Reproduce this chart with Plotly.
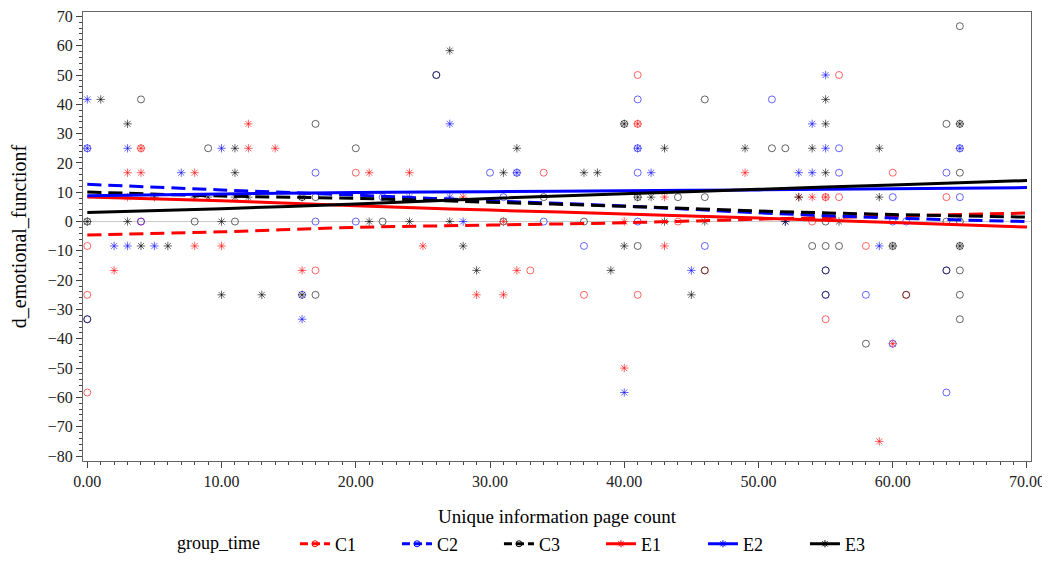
import plotly.graph_objects as go

# scatter points (x = page count, y = score)
c1_x = [0, 0, 0, 4, 4, 17, 20, 33, 34, 37, 41, 41, 41, 44, 46, 54, 55, 56, 56, 55, 58, 60, 61, 64]
c1_y = [-8.33, -25, -58.33, 0, 25, -16.67, 16.67, -16.67, 16.67, -25, 50, 33.33, -25, 0, -16.67,
        0, 8.33, 8.33, 50, -33.33, -8.33, 16.67, -25, 8.33]

c2_x = [0, 0, 4, 16, 17, 17, 20, 22, 26, 30, 31, 32, 34, 37, 41, 41, 41, 41, 46, 51, 55, 55,
        56, 56, 58, 60, 61, 60, 60, 64, 64, 64, 65, 65]
c2_y = [25, -33.33, 0, -25, 16.67, 0, 0, 8.33, 50, 16.67, 8.33, 16.67, 0, -8.33, 41.67, 25,
        16.67, 0, -8.33, 41.67, -16.67, -25, 25, 16.67, -25, 0, 0, -41.67, 8.33, 16.67, -58.33,
        -16.67, 8.33, 25]

c3_x = [0, 0, 4, 8, 9, 11, 16, 17, 17, 17, 20, 22, 26, 31, 34, 37, 40, 41, 41, 44, 46, 46, 46,
        51, 52, 54, 55, 55, 55, 55, 56, 58, 60, 61, 64, 64, 64, 65, 65, 65, 65, 65, 65, 65, 65]
c3_y = [0, -33.33, 41.67, 0, 25, 0, 8.33, 33.33, -25, 8.33, 25, 0, 50, 0, 8.33, 0, 33.33, 8.33,
        -8.33, 8.33, 41.67, 8.33, -16.67, 25, 25, -8.33, -8.33, 0, -16.67, -25, -8.33, -41.67,
        -8.33, -25, 33.33, 0, -16.67, 66.67, 33.33, 16.67, 0, -8.33, -16.67, -25, -33.33]

e1_x = [2, 3, 3, 4, 4, 8, 8, 10, 12, 12, 14, 16, 21, 24, 25, 28, 29, 31, 32, 40, 40, 41, 43,
        43, 49, 54, 55, 60, 59, 31, 53]
e1_y = [-16.67, 16.67, 8.33, 16.67, 25, 16.67, -8.33, -8.33, 33.33, 25, 25, -16.67, 16.67,
        16.67, -8.33, 8.33, -25, -25, -16.67, -50, 0, 33.33, -8.33, 8.33, 16.67, 8.33, 8.33,
        -41.67, -75, 0, 8.33]

e2_x = [0, 0, 2, 3, 3, 5, 7, 10, 16, 24, 27, 27, 28, 32, 40, 41, 42, 45, 53, 54, 54, 55, 55,
        59, 65, 52]
e2_y = [41.67, 25, -8.33, -8.33, 25, -8.33, 16.67, 25, -33.33, 8.33, 33.33, 8.33, 0, 16.67,
        -58.33, 25, 16.67, -16.67, 16.67, 16.67, 33.33, 50, 25, -8.33, 25, 0]

e3_x = [0, 1, 3, 3, 4, 5, 6, 8, 9, 10, 10, 11, 11, 11, 12, 13, 16, 16, 21, 24, 27, 27, 28, 29,
        31, 32, 37, 38, 39, 40, 40, 41, 42, 43, 43, 45, 46, 49, 53, 54, 55, 55, 55, 56, 59, 59,
        60, 65, 65, 52]
e3_y = [0, 41.67, 33.33, 0, -8.33, 8.33, -8.33, 8.33, 8.33, 0, -25, 16.67, 25, 8.33, 8.33, -25,
        -25, 8.33, 0, 0, 58.33, 0, -8.33, -16.67, 16.67, 25, 16.67, 16.67, -16.67, -8.33, 33.33,
        8.33, 8.33, 25, 0, -25, 0, 25, 8.33, 25, 41.67, 33.33, 16.67, 0, 25, 8.33, -8.33, 33.33,
        -8.33, 0]

# fitted curves read at x = 0, 10, ..., 70
fit_x = [0, 10, 20, 30, 40, 50, 60, 70]
c1_fit = [-4.6, -3.5, -2.0, -1.2, -0.4, 0.8, 1.9, 2.9]
c2_fit = [12.7, 10.8, 9.0, 7.1, 5.3, 3.0, 1.2, 0.0]
c3_fit = [10.1, 8.7, 7.9, 6.6, 5.2, 3.6, 2.4, 1.5]
e1_fit = [8.4, 7.1, 5.4, 3.9, 2.6, 1.2, -0.3, -1.9]
e2_fit = [8.8, 9.4, 9.9, 10.2, 10.5, 10.8, 11.2, 11.6]
e3_fit = [3.1, 4.4, 6.0, 7.9, 9.5, 11.0, 12.5, 14.0]

groups = [
    ("C1", c1_x, c1_y, c1_fit, "#ff0000", "circle-open", "14px,7px"),
    ("C2", c2_x, c2_y, c2_fit, "#0000ff", "circle-open", "14px,7px"),
    ("C3", c3_x, c3_y, c3_fit, "#000000", "circle-open", "14px,7px"),
    ("E1", e1_x, e1_y, e1_fit, "#ff0000", "asterisk-open", "solid"),
    ("E2", e2_x, e2_y, e2_fit, "#0000ff", "asterisk-open", "solid"),
    ("E3", e3_x, e3_y, e3_fit, "#000000", "asterisk-open", "solid"),
]

fig = go.Figure()

# reference line at zero
fig.add_hline(y=0, line=dict(color="#c8c8c8", width=1), layer="below")

for name, xs, ys, fit, col, sym, dash in groups:
    fig.add_trace(go.Scatter(x=xs, y=ys, mode="markers", showlegend=False,
                             marker=dict(symbol=sym, size=7, color=col, opacity=0.6,
                                         line=dict(width=1, color=col))))

for name, xs, ys, fit, col, sym, dash in groups:
    fig.add_trace(go.Scatter(x=fit_x, y=fit, mode="lines", showlegend=False,
                             line=dict(color=col, width=3, dash=dash, shape="spline")))

# legend entries (line + marker)
for name, xs, ys, fit, col, sym, dash in groups:
    fig.add_trace(go.Scatter(x=[None], y=[None], mode="lines+markers", name=name,
                             line=dict(color=col, width=3, dash="solid" if dash == "solid" else "8px,4px"),
                             marker=dict(symbol=sym, size=6, color=col, line=dict(width=1, color=col))))

serif = "Liberation Serif"

fig.update_xaxes(range=[-0.32, 70.3], tickvals=[0, 10, 20, 30, 40, 50, 60, 70],
                 ticktext=["0.00", "10.00", "20.00", "30.00", "40.00", "50.00", "60.00", "70.00"],
                 ticks="outside", ticklen=6, tickcolor="#444", automargin=False,
                 minor=dict(dtick=1, ticks="outside", ticklen=3, tickcolor="#444"),
                 showgrid=False, zeroline=False, showline=True, linecolor="#666", mirror=True,
                 title=dict(text="Unique information page count", font=dict(family=serif, size=19, color="black"),
                            standoff=20),
                 tickfont=dict(family=serif, size=16, color="#222"))
fig.update_yaxes(range=[-81.7, 71.5], dtick=10, ticks="outside", ticklen=6, tickcolor="#444",
                 automargin=False,
                 minor=dict(dtick=2, ticks="outside", ticklen=3, tickcolor="#444"),
                 showgrid=False, zeroline=False, showline=True, linecolor="#666", mirror=True,
                 title=dict(text="d_emotional_functionf", font=dict(family=serif, size=20, color="black"),
                            standoff=18),
                 tickfont=dict(family=serif, size=16, color="#222"))

# page body adds an 8px offset, so the figure is 8px smaller than the window
fig.update_layout(
    width=1042, height=559,
    margin=dict(l=75, r=19, t=4, b=100),
    plot_bgcolor="white", paper_bgcolor="white",
    font=dict(family=serif, color="black"),
    legend=dict(orientation="h", x=0.097, xanchor="left", y=-0.185, yanchor="middle",
                title=dict(text="group_time" + "\u00a0" * 6, font=dict(family=serif, size=18)),
                font=dict(family=serif, size=18), entrywidth=57),
)

fig.write_html("out.html")
